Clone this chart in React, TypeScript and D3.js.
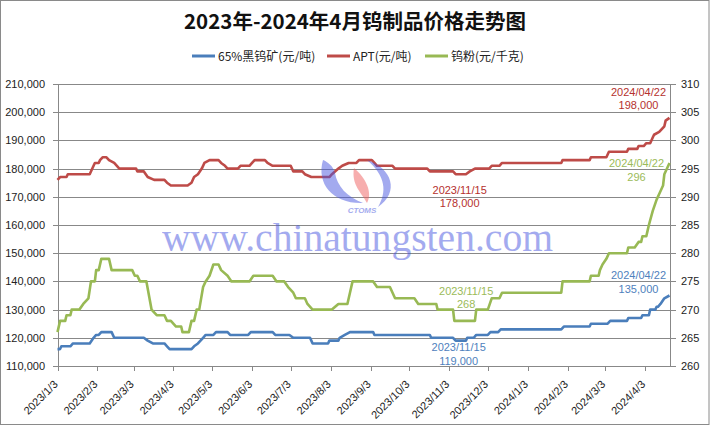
import React from "react";
import * as d3 from "d3";

type Pt = [string, number];

// 65%黑钨矿 (元/吨) — left axis
const oreData: Pt[] = [
  ["2023-01-03", 116000], ["2023-01-05", 116000], ["2023-01-06", 117000], ["2023-01-13", 117000],
  ["2023-01-15", 118000], ["2023-01-28", 118000], ["2023-01-31", 120000], ["2023-02-02", 121000],
  ["2023-02-04", 121000], ["2023-02-06", 122000], ["2023-02-14", 122000], ["2023-02-16", 120000],
  ["2023-03-11", 120000], ["2023-03-14", 119000], ["2023-03-18", 118000], ["2023-03-27", 118000],
  ["2023-03-29", 117000], ["2023-03-31", 116000], ["2023-04-17", 116000], ["2023-04-19", 117000],
  ["2023-04-22", 118000], ["2023-04-26", 120000], ["2023-04-28", 121000], ["2023-05-04", 121000],
  ["2023-05-06", 122000], ["2023-05-15", 122000], ["2023-05-17", 121000], ["2023-05-31", 121000],
  ["2023-06-02", 122000], ["2023-06-19", 122000], ["2023-06-21", 121000], ["2023-07-02", 121000],
  ["2023-07-05", 120000], ["2023-07-18", 120000], ["2023-07-19", 119000], ["2023-07-20", 118000],
  ["2023-08-01", 118000], ["2023-08-02", 119000], ["2023-08-09", 119000], ["2023-08-10", 120000],
  ["2023-08-14", 121000], ["2023-08-18", 122000], ["2023-09-05", 122000], ["2023-09-06", 121000],
  ["2023-10-19", 121000], ["2023-10-20", 120000], ["2023-11-06", 120000], ["2023-11-08", 119000],
  ["2023-11-16", 119000], ["2023-11-17", 120000], ["2023-11-22", 120000], ["2023-11-24", 121000],
  ["2023-12-03", 121000], ["2023-12-05", 122000], ["2023-12-11", 122000], ["2023-12-13", 123000],
  ["2024-01-29", 123000], ["2024-01-31", 124000], ["2024-02-20", 124000], ["2024-02-21", 125000],
  ["2024-03-05", 125000], ["2024-03-07", 126000], ["2024-03-20", 126000], ["2024-03-21", 127000],
  ["2024-03-31", 127000], ["2024-04-01", 128000], ["2024-04-06", 128000], ["2024-04-07", 130000],
  ["2024-04-11", 130000], ["2024-04-12", 131000], ["2024-04-13", 131000], ["2024-04-15", 132000],
  ["2024-04-18", 134000], ["2024-04-22", 135000],
];

// APT (元/吨) — left axis
const aptData: Pt[] = [
  ["2023-01-03", 176000], ["2023-01-05", 177000], ["2023-01-10", 177000], ["2023-01-11", 178000],
  ["2023-01-28", 178000], ["2023-01-31", 181000], ["2023-02-01", 182000], ["2023-02-04", 182000],
  ["2023-02-05", 183000], ["2023-02-07", 184000], ["2023-02-10", 184000], ["2023-02-12", 183000],
  ["2023-02-16", 182000], ["2023-02-20", 180000], ["2023-03-05", 180000], ["2023-03-06", 179000],
  ["2023-03-11", 179000], ["2023-03-14", 177000], ["2023-03-19", 176000], ["2023-03-27", 176000],
  ["2023-03-29", 175000], ["2023-04-01", 174000], ["2023-04-14", 174000], ["2023-04-17", 175000],
  ["2023-04-19", 177000], ["2023-04-22", 178000], ["2023-04-25", 180000], ["2023-04-27", 182000],
  ["2023-05-01", 183000], ["2023-05-08", 183000], ["2023-05-10", 182000], ["2023-05-13", 181000],
  ["2023-05-15", 180000], ["2023-05-23", 180000], ["2023-05-25", 181000], ["2023-06-01", 181000],
  ["2023-06-03", 182000], ["2023-06-05", 183000], ["2023-06-13", 183000], ["2023-06-15", 182000],
  ["2023-06-19", 181000], ["2023-07-03", 181000], ["2023-07-05", 179000], ["2023-07-12", 179000],
  ["2023-07-14", 178000], ["2023-07-19", 177000], ["2023-08-02", 177000], ["2023-08-04", 178000],
  ["2023-08-09", 180000], ["2023-08-12", 181000], ["2023-08-17", 182000], ["2023-08-23", 182000],
  ["2023-08-25", 183000], ["2023-09-04", 183000], ["2023-09-06", 182000], ["2023-09-08", 181000],
  ["2023-09-20", 181000], ["2023-09-22", 180000], ["2023-10-17", 180000], ["2023-10-19", 179000],
  ["2023-11-06", 179000], ["2023-11-08", 178000], ["2023-11-16", 178000], ["2023-11-19", 179000],
  ["2023-11-23", 180000], ["2023-12-04", 180000], ["2023-12-06", 181000], ["2023-12-12", 181000],
  ["2023-12-14", 182000], ["2024-01-29", 182000], ["2024-01-30", 183000], ["2024-02-20", 183000],
  ["2024-02-21", 184000], ["2024-03-04", 184000], ["2024-03-06", 186000], ["2024-03-20", 186000],
  ["2024-03-21", 187000], ["2024-03-28", 187000], ["2024-03-29", 188000], ["2024-04-02", 188000],
  ["2024-04-04", 189000], ["2024-04-07", 189000], ["2024-04-09", 191000], ["2024-04-10", 192000],
  ["2024-04-14", 193000], ["2024-04-16", 194000], ["2024-04-18", 195000], ["2024-04-19", 197000],
  ["2024-04-22", 198000],
];

// 钨粉 (元/千克) — right axis
const powderData: Pt[] = [
  ["2023-01-03", 266], ["2023-01-05", 268], ["2023-01-09", 268], ["2023-01-10", 269],
  ["2023-01-13", 269], ["2023-01-14", 270], ["2023-01-20", 270], ["2023-01-23", 271],
  ["2023-01-27", 272], ["2023-01-29", 275], ["2023-02-01", 275], ["2023-02-02", 277],
  ["2023-02-04", 277], ["2023-02-06", 279], ["2023-02-12", 279], ["2023-02-14", 277],
  ["2023-03-02", 277], ["2023-03-04", 276], ["2023-03-06", 276], ["2023-03-08", 275],
  ["2023-03-13", 275], ["2023-03-17", 270], ["2023-03-21", 269], ["2023-03-27", 269],
  ["2023-03-29", 268], ["2023-04-01", 268], ["2023-04-05", 267], ["2023-04-09", 267],
  ["2023-04-10", 266], ["2023-04-15", 266], ["2023-04-17", 268], ["2023-04-19", 268],
  ["2023-04-21", 270], ["2023-04-23", 270], ["2023-04-26", 274], ["2023-04-28", 275],
  ["2023-05-01", 276], ["2023-05-04", 278], ["2023-05-08", 278], ["2023-05-10", 277],
  ["2023-05-15", 276], ["2023-05-18", 275], ["2023-06-01", 275], ["2023-06-04", 276],
  ["2023-06-19", 276], ["2023-06-22", 275], ["2023-06-28", 275], ["2023-07-01", 274],
  ["2023-07-05", 273], ["2023-07-07", 272], ["2023-07-14", 272], ["2023-07-16", 271],
  ["2023-07-20", 270], ["2023-08-04", 270], ["2023-08-09", 271], ["2023-08-16", 271],
  ["2023-08-18", 273], ["2023-08-20", 275], ["2023-09-05", 275], ["2023-09-08", 274],
  ["2023-09-18", 274], ["2023-09-22", 272], ["2023-10-07", 272], ["2023-10-10", 271],
  ["2023-10-24", 271], ["2023-10-25", 270], ["2023-11-06", 270], ["2023-11-07", 268],
  ["2023-11-23", 268], ["2023-11-24", 270], ["2023-12-03", 270], ["2023-12-06", 272],
  ["2023-12-12", 272], ["2023-12-14", 273], ["2024-01-29", 273], ["2024-01-30", 275],
  ["2024-02-20", 275], ["2024-02-21", 276], ["2024-02-27", 276], ["2024-02-28", 277],
  ["2024-03-01", 278], ["2024-03-04", 279], ["2024-03-06", 280], ["2024-03-20", 280],
  ["2024-03-21", 281], ["2024-03-26", 281], ["2024-03-29", 282], ["2024-03-31", 282],
  ["2024-04-01", 283], ["2024-04-04", 283], ["2024-04-05", 284], ["2024-04-06", 285],
  ["2024-04-09", 287.5], ["2024-04-12", 289.5], ["2024-04-14", 290.5], ["2024-04-17", 292],
  ["2024-04-18", 294], ["2024-04-22", 296],
];

const leftTicks = [110000, 120000, 130000, 140000, 150000, 160000, 170000, 180000, 190000, 200000, 210000];
const rightTicks = [260, 265, 270, 275, 280, 285, 290, 295, 300, 305, 310];
const monthTicks = [
  "2023-01-03", "2023-02-03", "2023-03-03", "2023-04-03", "2023-05-03", "2023-06-03",
  "2023-07-03", "2023-08-03", "2023-09-03", "2023-10-03", "2023-11-03", "2023-12-03",
  "2024-01-03", "2024-02-03", "2024-03-03", "2024-04-03",
];
const dateDomain = ["2023-01-03", "2024-04-22"];

const seriesNames = ["65%黑钨矿(元/吨)", "APT(元/吨)", "钨粉(元/千克)"];
const titleText = "2023年-2024年4月钨制品价格走势图";

// annotations: [date, value, value label]
const oreNotes: Pt[] = [["2023-11-15", 119000], ["2024-04-22", 135000]];
const aptNotes: Pt[] = [["2023-11-15", 178000], ["2024-04-22", 198000]];
const powderNotes: Pt[] = [["2023-11-15", 268], ["2024-04-22", 296]];

const parse = d3.timeParse("%Y-%m-%d");
const fmtDateLabel = (s: string) => s.replace(/-/g, "/");
const fmtTick = d3.timeFormat("%Y/%-m/%-d");
const fmtNum = d3.format(",");

const W = 710, H = 426;
const left = 57.5, right = 669.5, top = 84, bottom = 366;

const C_BLUE = "#4a7ebb", C_RED = "#be4b48", C_GREEN = "#98b954";
const T_BLUE = "#4f81bd", T_RED = "#b5312e", T_GREEN = "#9bbb59";
const GRID = "#888888";
const LATIN = "'Liberation Sans', Arial, sans-serif";
const CJK = "'Noto Sans CJK SC', 'Noto Sans', sans-serif";

export default function App() {
  const x = d3.scaleTime().domain(dateDomain.map((d) => parse(d) as Date)).range([left, right]);
  const yL = d3.scaleLinear().domain([110000, 210000]).range([bottom, top]);
  const yR = d3.scaleLinear().domain([260, 310]).range([bottom, top]);

  const lineL = d3.line<Pt>().x((d) => x(parse(d[0]) as Date)).y((d) => yL(d[1]));
  const lineR = d3.line<Pt>().x((d) => x(parse(d[0]) as Date)).y((d) => yR(d[1]));

  const legendItems = [
    { name: seriesNames[0], color: C_BLUE, x0: 192 },
    { name: seriesNames[1], color: C_RED, x0: 327 },
    { name: seriesNames[2], color: C_GREEN, x0: 425 },
  ];

  // annotation label placement (offsets from the data point: dx, dy line1, dy line2)
  const notes = [
    ...oreNotes.map((n, i) => ({ n, y: yL(n[1]), txt: fmtNum(n[1]), color: T_BLUE, off: i === 0 ? [-6, 10, 24.5] : [-31, -17, -2.5] })),
    ...aptNotes.map((n, i) => ({ n, y: yL(n[1]), txt: fmtNum(n[1]), color: T_RED, off: i === 0 ? [-5, 20, 33] : [-31, -22, -9] })),
    ...powderNotes.map((n, i) => ({ n, y: yR(n[1]), txt: String(n[1]), color: T_GREEN, off: i === 0 ? [1.5, -26, -13] : [-33, 4, 18] })),
  ];

  return (
    <div style={{ position: "absolute", left: 0, top: 0, width: W, height: H, background: "#fff" }}>
      <svg width={W} height={H} style={{ display: "block" }}>
        <rect x={0} y={0} width={W} height={H} fill="#fff" />
        <rect x={0.5} y={0.5} width={708.5} height={424} fill="none" stroke="#8a8a8a" strokeWidth={1} />

        {/* title */}
        <text x={355} y={29} textAnchor="middle" fontFamily={CJK} fontWeight={700} fontSize={20.5} fill="#111">
          {titleText}
        </text>

        {/* legend */}
        {legendItems.map((it) => (
          <g key={it.name}>
            <line x1={it.x0} x2={it.x0 + 23} y1={56} y2={56} stroke={it.color} strokeWidth={3} />
            <text x={it.x0 + 26} y={60.5} fontFamily={CJK} fontSize={12} fill="#222">
              {it.name}
            </text>
          </g>
        ))}

        {/* gridlines */}
        <g shapeRendering="crispEdges">
          {leftTicks.map((t) => (
            <line key={t} x1={left} x2={right} y1={Math.round(yL(t)) + 0.5} y2={Math.round(yL(t)) + 0.5} stroke={GRID} strokeWidth={1} />
          ))}
          <line x1={Math.round(left) + 0.5} x2={Math.round(left) + 0.5} y1={top} y2={bottom + 0.5} stroke={GRID} />
          <line x1={Math.round(right) + 0.5} x2={Math.round(right) + 0.5} y1={top} y2={bottom + 0.5} stroke={GRID} />
          {leftTicks.map((t) => (
            <line key={"lt" + t} x1={left - 5} x2={left} y1={Math.round(yL(t)) + 0.5} y2={Math.round(yL(t)) + 0.5} stroke={GRID} />
          ))}
          {rightTicks.map((t) => (
            <line key={"rt" + t} x1={right} x2={right + 6} y1={Math.round(yR(t)) + 0.5} y2={Math.round(yR(t)) + 0.5} stroke={GRID} />
          ))}
          {monthTicks.map((m) => {
            const px = Math.round(x(parse(m) as Date)) + 0.5;
            return <line key={"xt" + m} x1={px} x2={px} y1={bottom} y2={bottom + 5} stroke={GRID} />;
          })}
        </g>

        {/* axis labels */}
        {leftTicks.map((t) => (
          <text key={"ll" + t} x={45} y={yL(t) + 4} textAnchor="end" fontFamily={LATIN} fontSize={11} fill="#222">
            {fmtNum(t)}
          </text>
        ))}
        {rightTicks.map((t) => (
          <text key={"rl" + t} x={681} y={yR(t) + 4} textAnchor="start" fontFamily={LATIN} fontSize={11} fill="#222">
            {t}
          </text>
        ))}
        {monthTicks.map((m) => {
          const px = x(parse(m) as Date);
          return (
            <text key={"xl" + m} transform={`translate(${px + 1},${bottom + 19}) rotate(-45)`} textAnchor="end" fontFamily={LATIN} fontSize={11} fill="#222">
              {fmtTick(parse(m) as Date)}
            </text>
          );
        })}

        {/* series */}
        <path d={lineL(oreData) || ""} fill="none" stroke={C_BLUE} strokeWidth={2.6} strokeLinejoin="round" />
        <path d={lineL(aptData) || ""} fill="none" stroke={C_RED} strokeWidth={2.6} strokeLinejoin="round" />
        <path d={lineR(powderData) || ""} fill="none" stroke={C_GREEN} strokeWidth={2.6} strokeLinejoin="round" />

        {/* annotations */}
        {notes.map((a, i) => {
          const px = x(parse(a.n[0]) as Date) + a.off[0];
          return (
            <g key={"n" + i} fontFamily={LATIN} fontSize={11} fill={a.color} textAnchor="middle">
              <text x={px} y={a.y + a.off[1]}>{fmtDateLabel(a.n[0])}</text>
              <text x={px} y={a.y + a.off[2]}>{a.txt}</text>
            </g>
          );
        })}

        {/* watermark */}
        <g opacity={0.5} pointerEvents="none">
          <path d="M323,160 C316,184 333,204 363,203 C347,197 337,186 335,173 C333,166 328,162 323,160 Z" fill="#4a58e0" />
          <path d="M367,160 C392,168 400,192 378,207 C387,192 386,176 367,160 Z" fill="#4a58e0" />
          <path d="M354,168 C366,178 373,193 367,203 C362,193 351,185 354,168 Z" fill="#f06060" />
          <text x={362} y={213} textAnchor="middle" fontFamily={LATIN} fontStyle="italic" fontWeight={700} fontSize={8} fill="#4a58e0">
            CTOMS
          </text>
          <text x={162} y={251} fontFamily="'Liberation Serif', 'DejaVu Serif', serif" fontSize={41} textLength={391} lengthAdjust="spacingAndGlyphs" fill="#4a58e0">
            www.chinatungsten.com
          </text>
        </g>
      </svg>
    </div>
  );
}
